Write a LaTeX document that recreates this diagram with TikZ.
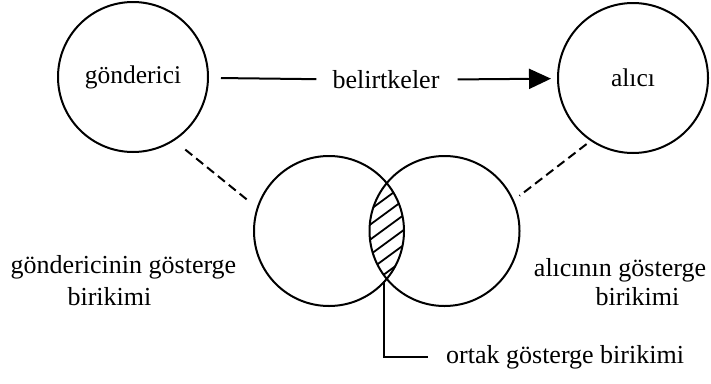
\documentclass[tikz,border=0pt]{standalone}
\usepackage{fontspec}
\setmainfont{Liberation Serif}
\usetikzlibrary{arrows.meta}
\begin{document}
\begin{tikzpicture}[x=1pt,y=-1pt,
  bigcircle/.style={draw,circle,line width=2pt,minimum size=150pt,inner sep=0pt,font=\fontsize{25.5}{29}\selectfont},
  lbl/.style={font=\fontsize{26}{30}\selectfont,inner sep=0pt},
  conn/.style={line width=2pt},
  dashconn/.style={line width=2pt,dash pattern=on 9pt off 5pt},
  hatch/.style={line width=1.8pt}]
\useasboundingbox (0,0) rectangle (711,383);
% top circles
\node[bigcircle] (g) at (133,77) {gönderici};
\node[bigcircle] (a) at (633,78) {alıcı};
\node[lbl] (b) at (386,80) {belirtkeler};
\draw[conn] (g) -- (b) [shorten <=12pt, shorten >=16pt];
\draw[conn,-{Triangle[length=22pt,width=20pt]}] (b) -- (a) [shorten <=18pt, shorten >=6pt];
% venn circles
\node[bigcircle] (vl) at (329,231) {};
\node[bigcircle] (vr) at (444.5,231) {};
% hatching in the lens
\begin{scope}
  \clip (329,231) circle (75pt);
  \clip (444.5,231) circle (75pt);
  \foreach \yy in {168,183,...,300} {
    \draw[hatch] (356,\yy+22) -- (416,\yy-22);
  }
\end{scope}
% dashed connectors
\draw[dashconn] (g.-57) -- (vl.162) [shorten <=14pt, shorten >=10pt];
\draw[dashconn] (a.-124) -- (vr.24) [shorten <=5pt, shorten >=7pt];
% labels
\node[lbl] (lt1) at (123.5,267) {göndericinin gösterge};
\node[lbl] (lt2) at (109.5,297) {birikimi};
\node[lbl] (rt1) at (620,270) {alıcının gösterge};
\node[lbl] (rt2) at (637.5,297) {birikimi};
% common part label
\coordinate (lb) at (383.5,281);
\node[lbl,anchor=west] (ortak) at (446,357) {ortak gösterge birikimi};
\draw[conn] (lb) |- (ortak.west) [shorten >=18pt];
\end{tikzpicture}
\end{document}
